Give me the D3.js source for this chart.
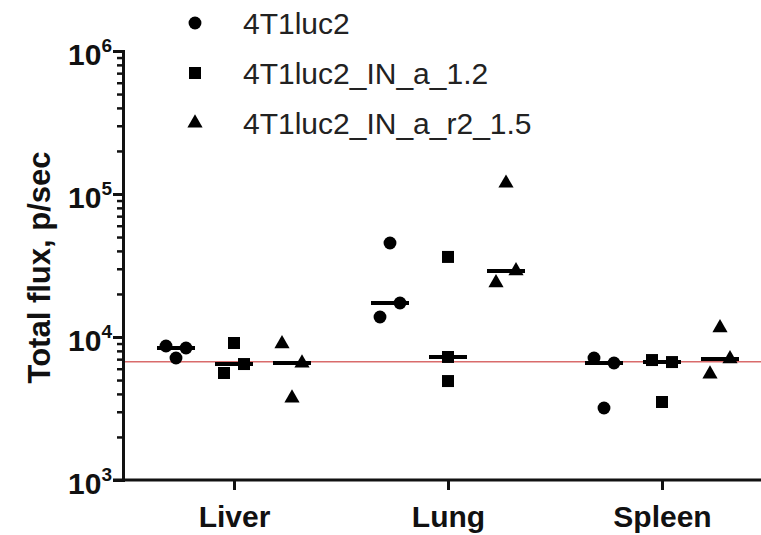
<!DOCTYPE html>
<html>
<head>
<meta charset="utf-8">
<script src="https://cdn.jsdelivr.net/npm/d3@7"></script>
<style>
  body { margin: 0; background: #fff; }
  svg { display: block; font-family: "Liberation Sans", Arial, sans-serif; }
</style>
</head>
<body>
<svg width="761" height="535"></svg>
<script>
// data
var categories = ["Liver", "Lung", "Spleen"];
var seriesNames = ["4T1luc2", "4T1luc2_IN_a_1.2", "4T1luc2_IN_a_r2_1.5"];
var circleValues = [[8650, 7130, 8380], [45400, 17300, 13800], [7130, 6580, 3190]];
var squareValues = [[9080, 5600, 6470], [36300, 7250, 4920], [6900, 6680, 3510]];
var triangleValues = [[8950, 6580, 3740], [119000, 29000, 23900], [11600, 7030, 5510]];
var yTickValues = [1e3, 1e4, 1e5, 1e6];
var threshold = 6700;

var svg = d3.select("svg"),
    margin = { top: 51, right: 0, bottom: 55, left: 123 },
    width = +svg.attr("width") - margin.left - margin.right,
    height = +svg.attr("height") - margin.top - margin.bottom,
    g = svg.append("g").attr("transform", "translate(" + margin.left + "," + margin.top + ")");

var x = d3.scalePoint().domain(categories).range([111, 539]);
var xOffset = d3.scalePoint().domain(seriesNames).range([-58, 58]);
var y = d3.scaleLog().domain([1e3, 1e6]).range([height, 0]);

// GraphPad spreads overlapping points sideways; slot per point (-1, 0, 1)
var spread = 10;
var slots = [
    [[-1, 0, 1], [0, -1, 1], [-1, 1, 0]],
    [[0, 1, -1], [0, 0, 0], [0, 1, -1]],
    [[-1, 1, 0], [-1, 1, 0], [0, 1, -1]]
];

var symbols = [d3.symbolCircle, d3.symbolSquare, d3.symbolTriangle];
var symbolSizes = [130, 144, 100];
var allValues = [circleValues, squareValues, triangleValues];

// threshold line
g.append("line")
    .attr("x1", 0).attr("x2", width)
    .attr("y1", y(threshold)).attr("y2", y(threshold))
    .attr("stroke", "#d96b6b")
    .attr("stroke-width", 1.5);

// minor ticks
var minorTicks = [];
[1e3, 1e4, 1e5].forEach(d => { for (var k = 2; k < 10; k++) minorTicks.push(d * k); });

g.append("g")
    .call(d3.axisLeft(y).tickValues(minorTicks).tickSize(6).tickFormat(""))
    .call(a => a.select(".domain").remove())
    .selectAll("line").attr("stroke", "#111").attr("stroke-width", 2.5);

var yAxis = g.append("g")
    .call(d3.axisLeft(y).tickValues(yTickValues).tickSize(10).tickFormat(""));
yAxis.select(".domain").attr("stroke", "#111").attr("stroke-width", 3);
yAxis.selectAll("line").attr("stroke", "#111").attr("stroke-width", 3);

var yLabels = g.append("g").selectAll("text")
    .data(yTickValues)
    .join("text")
    .attr("x", -11)
    .attr("y", d => y(d) + 14)
    .attr("text-anchor", "end")
    .attr("font-weight", "bold")
    .attr("font-size", 30)
    .attr("fill", "#111");
yLabels.append("tspan").text("10");
yLabels.append("tspan")
    .attr("dy", -13)
    .attr("font-size", 19)
    .text(d => Math.round(Math.log10(d)));

var xAxis = g.append("g")
    .attr("transform", "translate(0," + height + ")")
    .call(d3.axisBottom(x).tickSize(10).tickPadding(8).tickSizeOuter(0));
xAxis.select(".domain")
    .attr("d", "M-10,0H" + width)
    .attr("stroke", "#111").attr("stroke-width", 3);
xAxis.selectAll("line").attr("stroke", "#111").attr("stroke-width", 3);
xAxis.selectAll("text")
    .attr("font-size", 30)
    .attr("font-weight", "bold")
    .attr("font-family", "Liberation Sans, Arial, sans-serif")
    .attr("fill", "#111")
    .attr("dy", "0.95em");

g.append("text")
    .attr("transform", "translate(" + (-73) + "," + (height / 2 + 2) + ") rotate(-90)")
    .attr("text-anchor", "middle")
    .attr("font-size", 31)
    .attr("font-weight", "bold")
    .attr("fill", "#111")
    .text("Total flux, p/sec");

// points and medians
allValues.forEach((values, s) => {
    values.forEach((vals, c) => {
        var cx = x(categories[c]) + xOffset(seriesNames[s]);
        g.append("line")
            .attr("x1", cx - 19).attr("x2", cx + 19)
            .attr("y1", y(d3.median(vals))).attr("y2", y(d3.median(vals)))
            .attr("stroke", "#000")
            .attr("stroke-width", 4);
        g.selectAll(null)
            .data(vals)
            .join("path")
            .attr("d", d3.symbol().type(symbols[s]).size(symbolSizes[s]))
            .attr("transform", (d, i) => "translate(" + (cx + slots[c][s][i] * spread) + "," + y(d) + ")")
            .attr("fill", "#000");
    });
});

// legend
var legend = svg.append("g")
    .selectAll("g")
    .data(seriesNames)
    .join("g")
    .attr("transform", (d, i) => "translate(195," + (23 + i * 50) + ")");
legend.append("path")
    .attr("d", (d, i) => d3.symbol().type(symbols[i]).size(symbolSizes[i])())
    .attr("fill", "#000");
legend.append("text")
    .attr("x", 48)
    .attr("y", 11)
    .attr("font-size", 30)
    .attr("fill", "#222")
    .text(d => d);
</script>
</body>
</html>
